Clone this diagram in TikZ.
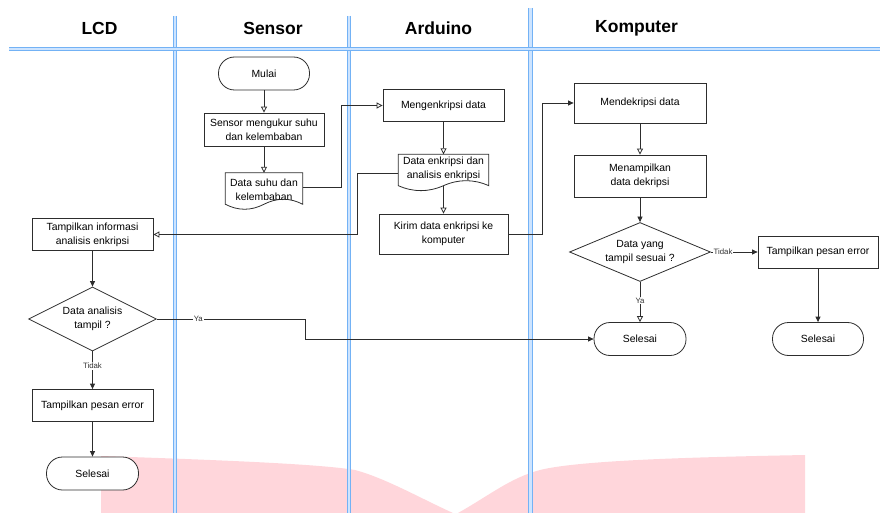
\documentclass[tikz,border=0pt]{standalone}
\usepackage{fontspec}
\setmainfont{Liberation Sans}
\usetikzlibrary{arrows.meta,calc,shapes.geometric}

\definecolor{garis}{RGB}{45,45,45}
\definecolor{biru}{RGB}{115,178,245}
\definecolor{birumuda}{RGB}{205,228,255}
\definecolor{merahmuda}{RGB}{255,214,219}

\newcommand{\teksnode}{\fontsize{10.4}{14}\selectfont}
% outline of a document shape around a named node, #2 = extra depth below the text
\newcommand{\gambardok}[2]{%
  \draw[garis,line width=0.8pt] let \p1=(#1.north west), \p2=($(#1.south east)+(0,#2)$), \n1={\y1-\y2}, \n2={\x2-\x1} in
    (\p1) -- (\x2,\y1) -- (\x2,{\y2+0.15*\n1})
    .. controls ({\x1+0.8333*\n2},{\y2+0.33*\n1}) and ({\x1+0.6667*\n2},{\y2+0.33*\n1}) .. ({\x1+0.5*\n2},{\y2+0.15*\n1})
    .. controls ({\x1+0.3333*\n2},{\y2-0.03*\n1}) and ({\x1+0.1667*\n2},{\y2-0.03*\n1}) .. (\x1,{\y2+0.15*\n1})
    -- cycle;}

\begin{document}
\begin{tikzpicture}[x=1pt,y=-1pt,
    proses/.style={draw=garis,line width=0.8pt,fill=white,align=center,minimum width=121pt,minimum height=32pt,inner sep=2pt,font=\teksnode},
    terminal/.style={proses,rounded corners=16pt,minimum width=91pt,minimum height=33pt},
    keputusan/.style={diamond,draw=garis,line width=0.8pt,fill=white,align=center,aspect=2.2,inner sep=0pt,font=\teksnode},
    dokumen/.style={align=center,minimum width=77pt,inner sep=0pt,font=\teksnode},
    alur/.style={draw=garis,line width=0.8pt,-{Triangle[open,length=6pt,width=6pt]}},
    alurisi/.style={draw=garis,line width=0.8pt,-{Triangle[length=5.5pt,width=5pt]}},
    ket/.style={fill=white,inner sep=0.8pt,font=\fontsize{7.8}{9}\selectfont,text=black!80},
    judul/.style={font=\fontsize{17.5}{20}\selectfont\bfseries}]
    \useasboundingbox (0,0) rectangle (880,513);

    % watermark
    \fill[merahmuda] (101,513) -- (101,456) .. controls (220,460) and (320,464) .. (355,470)
        .. controls (385,478) and (420,498) .. (453,513) -- (458,513)
        .. controls (490,495) and (510,478) .. (540,470)
        .. controls (580,460) and (700,457) .. (805,455) -- (805,513) -- cycle;

    % lanes
    \foreach \lx/\ly in {174.9/16, 348.9/16, 530.5/8} {
        \draw[birumuda,line width=3.4pt] (\lx,\ly) -- (\lx,513);
        \draw[biru,line width=0.8pt] (\lx-1.7,\ly) -- (\lx-1.7,513);
        \draw[biru,line width=0.8pt] (\lx+1.7,\ly) -- (\lx+1.7,513);
    }
    \draw[birumuda,line width=3.4pt] (9,48.7) -- (880,48.7);
    \draw[biru,line width=0.8pt] (9,47) -- (880,47);
    \draw[biru,line width=0.8pt] (9,50.4) -- (880,50.4);

    \node[judul] (hlcd) at (99.5,28.5) {LCD};
    \node[judul] (hsensor) at (273,28.5) {Sensor};
    \node[judul] (harduino) at (438.5,28.5) {Arduino};
    \node[judul] (hkomputer) at (636.5,28.5) {Komputer};

    % Sensor
    \node[terminal] (mulai) at (264,73.5) {Mulai};
    \node[proses,minimum width=120pt,minimum height=33pt] (sensor) at (264,129.5) {Sensor mengukur suhu\\dan kelembaban};
    \node[dokumen,minimum height=32.8pt] (datasuhu) at (264,189.4) {Data suhu dan\\kelembaban};
    \gambardok{datasuhu}{3.8}

    % Arduino
    \node[proses] (enkripsi) at (443.5,105.5) {Mengenkripsi data};
    \node[dokumen,minimum width=90pt,minimum height=29pt] (dataenk) at (443.5,169) {Data enkripsi dan\\analisis enkripsi};
    \gambardok{dataenk}{7.5}
    \node[proses,minimum width=129pt,minimum height=40pt] (kirim) at (443.5,234) {Kirim data enkripsi ke\\komputer};

    % Komputer
    \node[proses,minimum width=132pt,minimum height=40pt] (dekripsi) at (640,103) {Mendekripsi data};
    \node[proses,minimum width=132pt,minimum height=42pt] (tampildek) at (640,176) {Menampilkan\\data dekripsi};
    \node[keputusan,minimum width=141pt,minimum height=59pt] (cekdata) at (640,252) {Data yang\\tampil sesuai ?};
    \node[proses,minimum width=120pt] (errkomp) at (818,252) {Tampilkan pesan error};
    \node[terminal] (selesaik) at (818,339) {Selesai};
    \node[terminal,minimum width=92pt] (selesaia) at (640,339) {Selesai};

    % LCD
    \node[proses] (info) at (92.5,234.5) {Tampilkan informasi\\analisis enkripsi};
    \node[keputusan,minimum width=128pt,minimum height=64pt] (ceklcd) at (92.5,319) {Data analisis\\tampil ?};
    \node[proses] (errlcd) at (92.5,405.5) {Tampilkan pesan error};
    \node[terminal,minimum width=92pt] (selesail) at (92.5,473.5) {Selesai};

    % connectors
    \draw[alur] (mulai) -- (sensor);
    \draw[alur] (sensor) -- (datasuhu);
    \draw[alur] ([yshift=2.4pt]datasuhu.east) -- ++(38.5,0) |- (enkripsi.west);
    \draw[alur] (enkripsi) -- (dataenk);
    \draw[alur] ([yshift=-2.2pt]dataenk.south) -- (kirim);
    \draw[alur] ([yshift=-4.3pt]dataenk.west) -- ++(-41,0) |- (info.east);
    \draw[alurisi] (kirim.east) -- ++(34,0) |- (dekripsi.west);
    \draw[alur] (dekripsi) -- (tampildek);
    \draw[alurisi] (tampildek) -- (cekdata);
    \draw[alurisi] (cekdata.east) -- node[ket,pos=0.26]{Tidak} (errkomp.west);
    \draw[alurisi] (errkomp) -- (selesaik);
    \draw[alur] (cekdata) -- node[ket,pos=0.46]{Ya} (selesaia);
    \draw[alurisi] (info) -- (ceklcd);
    \draw[alurisi] (ceklcd.east) -- node[ket,pos=0.28]{Ya} ++(148,0) |- (selesaia.west);
    \draw[alurisi] (ceklcd) -- node[ket,pos=0.39]{Tidak} (errlcd);
    \draw[alurisi] (errlcd) -- (selesail);
\end{tikzpicture}
\end{document}
